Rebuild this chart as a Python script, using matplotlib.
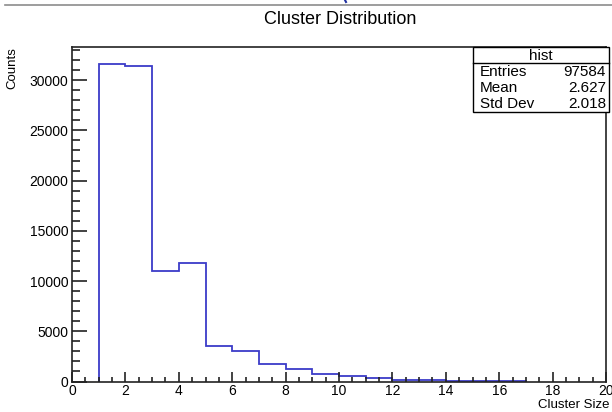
import numpy as np
import matplotlib.pyplot as plt
from matplotlib.patches import Rectangle
from matplotlib.lines import Line2D
from matplotlib.ticker import MultipleLocator

plt.rcParams['font.family'] = ['Liberation Sans', 'DejaVu Sans']

# cluster size histogram, one bin per unit
bin_edges = np.arange(1, 18)
counts = [31610, 31440, 11000, 11840, 3520, 2990, 1760, 1220,
          700, 500, 300, 170, 100, 60, 30, 15]

stats_title = "hist"
stats_rows = [("Entries", "97584"), ("Mean", "2.627"), ("Std Dev", "2.018")]

W, H = 612, 412


def fx(px):
    return px / W


def fy(py):
    return 1 - py / H


fig = plt.figure(figsize=(W / 100, H / 100), dpi=100)
ax = fig.add_axes([fx(72), fy(381.5), fx(606) - fx(72), fy(47) - fy(381.5)])

ax.stairs(counts, bin_edges, baseline=0, color='#3c3cc8', lw=1.3)

ax.set_xlim(0, 20)
ax.set_ylim(0, 33300)
ax.xaxis.set_major_locator(MultipleLocator(2))
ax.xaxis.set_minor_locator(MultipleLocator(0.5))
ax.yaxis.set_major_locator(MultipleLocator(5000))
ax.yaxis.set_minor_locator(MultipleLocator(1000))
ax.tick_params(which='both', direction='in', top=False, right=False,
               labelsize=10, width=1.2, color='#222222')
ax.tick_params(axis='y', which='major', length=11, pad=2.5)
ax.tick_params(axis='y', which='minor', length=6)
ax.tick_params(axis='x', which='major', length=7, pad=1.5)
ax.tick_params(axis='x', which='minor', length=3.5)
for s in ax.spines.values():
    s.set_linewidth(1.2)
    s.set_color('#222222')

fig.text(fx(340), fy(20), "Cluster Distribution", ha='center', va='center',
         fontsize=13)
fig.text(fx(609), fy(405), "Cluster Size", ha='right', va='center',
         fontsize=9.5)
fig.text(fx(12), fy(47), "Counts", ha='center', va='top', rotation=90,
         fontsize=9.5)

# stats box
bx0, bx1, by0, by1 = 473, 609, 47, 112
fig.add_artist(Rectangle((fx(bx0) + 0.002, fy(by1) - 0.003),
                         fx(bx1) - fx(bx0), fy(by0) - fy(by1),
                         transform=fig.transFigure, fc='black', ec='none'))
fig.add_artist(Rectangle((fx(bx0), fy(by1)), fx(bx1) - fx(bx0),
                         fy(by0) - fy(by1), transform=fig.transFigure,
                         fc='white', ec='black', lw=1.0))
fig.add_artist(Line2D([fx(bx0), fx(bx1)], [fy(63), fy(63)],
                      transform=fig.transFigure, color='black', lw=1.0))
fig.text(fx((bx0 + bx1) / 2), fy(55.5), stats_title, ha='center', va='center',
         fontsize=11)
for i, (name, val) in enumerate(stats_rows):
    yy = fy(72.5 + i * 16)
    fig.text(fx(480), yy, name, ha='left', va='center', fontsize=11)
    fig.text(fx(606), yy, val, ha='right', va='center', fontsize=11)

# window frame line above the canvas
fig.add_artist(Line2D([fx(5), 1], [fy(5), fy(5)], transform=fig.transFigure,
                      color='#8c8c8c', lw=1.2))
fig.add_artist(Line2D([fx(345), fx(346)], [1, fy(2)], transform=fig.transFigure,
                      color='#2030a0', lw=1.5))

fig.savefig('out.png', dpi=100)
